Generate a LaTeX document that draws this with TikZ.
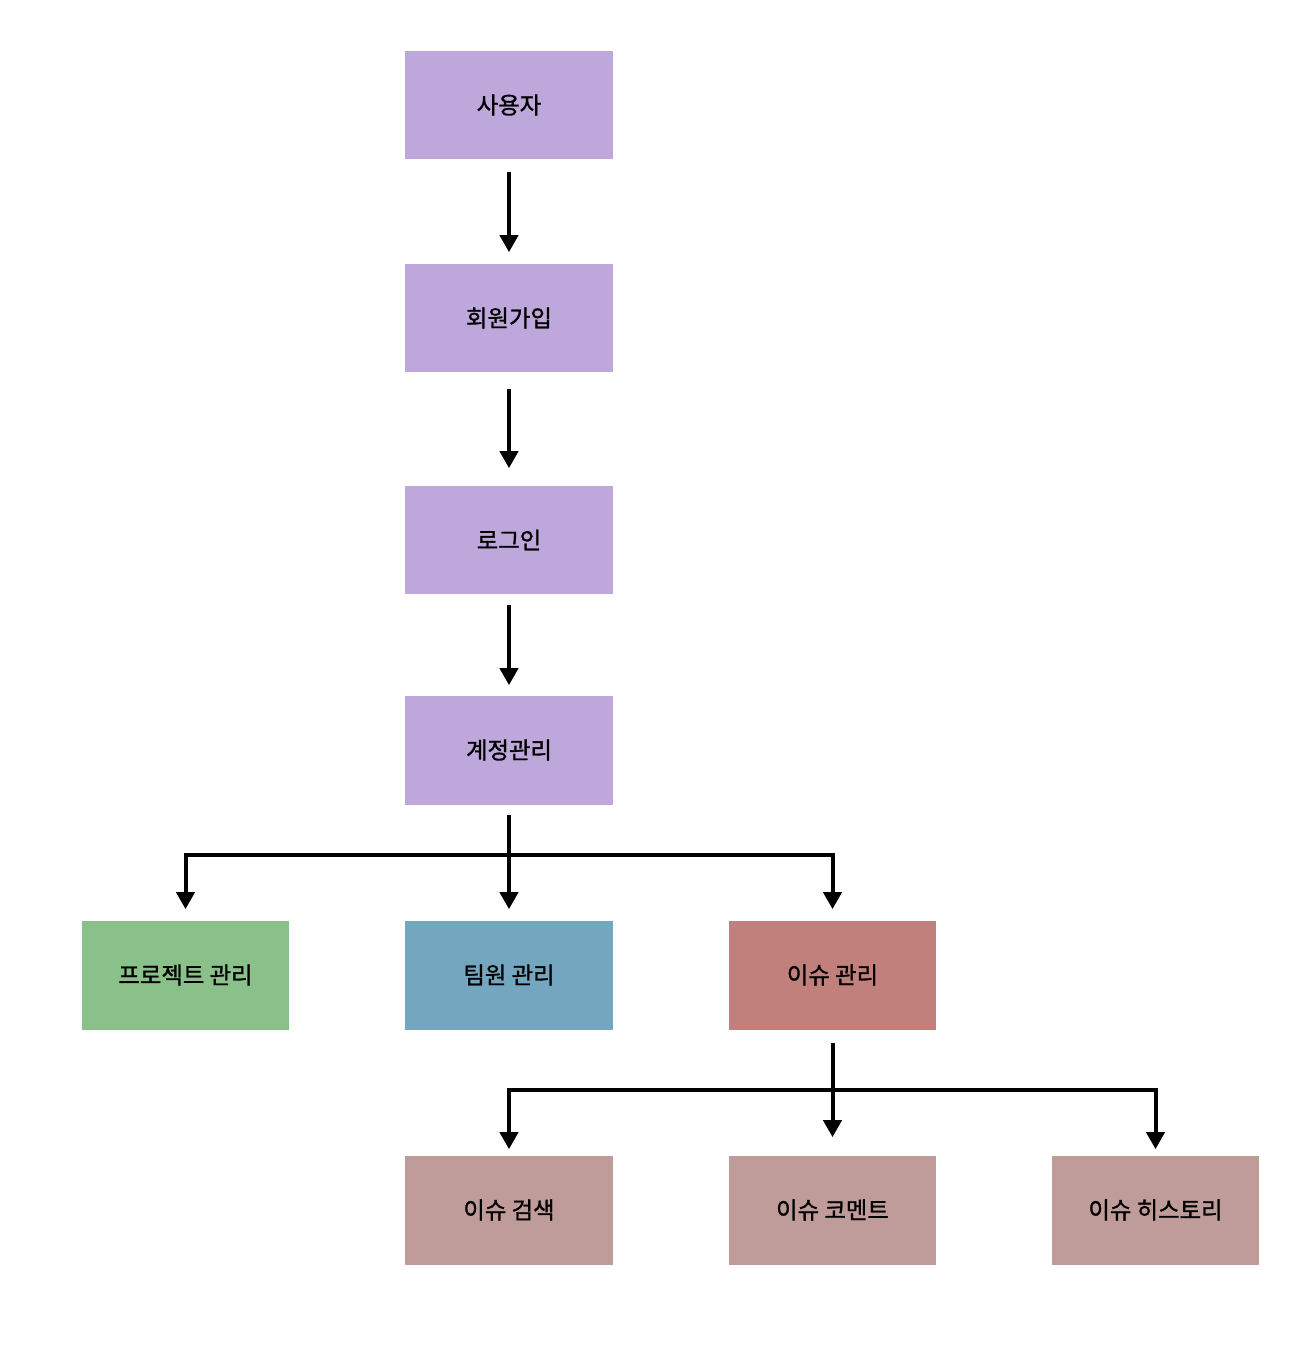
\documentclass[tikz,border=0pt]{standalone}
\usepackage{fontspec}
\newfontfamily\krfont{Noto Sans CJK KR}[FakeBold=1.2]
\usetikzlibrary{arrows.meta}

\definecolor{boxpurple}{HTML}{BEA7DA}
\definecolor{boxgreen}{HTML}{8AC08A}
\definecolor{boxblue}{HTML}{74A6BF}
\definecolor{boxred}{HTML}{C1807C}
\definecolor{boxmauve}{HTML}{BF9C99}

\tikzset{
  box/.style={rectangle, minimum width=4.16cm, minimum height=2.18cm,
    inner sep=0pt, font=\krfont\fontsize{13.3pt}{15pt}\selectfont},
  arr/.style={line width=0.08cm, -{Triangle[width=0.36cm,length=0.34cm]}},
  link/.style={line width=0.08cm}
}

\begin{document}
\begin{tikzpicture}[x=0.02cm, y=-0.02cm]
\useasboundingbox (0,0) rectangle (1302,1346);

  % main column
  \node[box, fill=boxpurple] (user)   at (509,105) {사용자};
  \node[box, fill=boxpurple] (signup) at (509,318) {회원가입};
  \node[box, fill=boxpurple] (login)  at (509,540) {로그인};
  \node[box, fill=boxpurple] (acct)   at (509,750) {계정관리};

  % second row
  \node[box, fill=boxgreen] (proj)  at (185.5,975) {프로젝트 관리};
  \node[box, fill=boxblue]  (team)  at (509,975)   {팀원 관리};
  \node[box, fill=boxred]   (issue) at (832.5,975) {이슈 관리};

  % third row
  \node[box, fill=boxmauve] (search)  at (509,1210)    {이슈 검색};
  \node[box, fill=boxmauve] (comment) at (832.5,1210)  {이슈 코멘트};
  \node[box, fill=boxmauve] (history) at (1155.5,1210) {이슈 히스토리};

  \coordinate (forkA) at (509,855);
  \coordinate (forkB) at (832.5,1090);

  \draw[arr, shorten <=0.24cm, shorten >=0.22cm] (user) -- (signup);
  \draw[arr, shorten <=0.32cm, shorten >=0.34cm] (signup) -- (login);
  \draw[arr, shorten <=0.2cm, shorten >=0.2cm] (login) -- (acct);

  \draw[arr, shorten <=0.2cm, shorten >=0.22cm] (acct) -- (team);
  \draw[arr, shorten >=0.22cm] (forkA) -| (proj.north);
  \draw[arr, shorten >=0.22cm] (forkA) -| (issue.north);

  \draw[arr, shorten <=0.26cm, shorten >=0.36cm] (issue) -- (comment);
  \draw[arr, shorten >=0.12cm] (forkB) -| (search.north);
  \draw[arr, shorten >=0.12cm] (forkB) -| (history.north);
\end{tikzpicture}
\end{document}
